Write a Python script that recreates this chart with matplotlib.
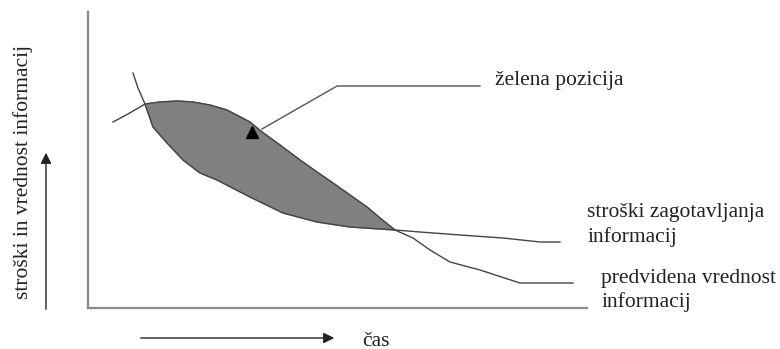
import numpy as np
import matplotlib.pyplot as plt

# koordinate so odčitane s slike (x v desno, y navzdol)
# predvidena vrednost informacij
vrednost_x = [113, 128, 145, 160, 177, 193, 210, 227, 250, 262, 280, 300, 317, 333, 350, 367, 380, 395, 413, 430, 450, 480, 520, 573]
vrednost_y = [122, 114, 104, 102, 101, 102, 105, 110, 122, 132, 145, 160, 172, 183, 195, 207, 218, 230, 238, 250, 262, 270, 283, 283]

# stroški zagotavljanja informacij
stroski_x = [133, 138, 145, 153, 167, 183, 200, 217, 250, 283, 317, 350, 395, 420, 460, 503, 540, 560]
stroski_y = [73, 88, 104, 127, 143, 160, 173, 180, 197, 213, 222, 227, 230, 232, 235, 238, 242, 242]

# osi in puščice
os_y = ([88, 88], [12, 308])
os_x = ([88, 587], [308, 308])

plt.rcParams['font.family'] = ['Liberation Serif', 'DejaVu Serif']

fig = plt.figure(figsize=(7.8, 3.49), dpi=100)
ax = fig.add_axes([0, 0, 1, 1])
ax.set_xlim(0, 780)
ax.set_ylim(349, 0)
ax.axis('off')

# osenčeno območje med presečiščema
vx = np.array(vrednost_x)
vy = np.array(vrednost_y)
sx = np.array(stroski_x)
sy = np.array(stroski_y)
zg = (vx >= 145) & (vx <= 395)
sp = (sx >= 145) & (sx <= 395)
poly_x = np.concatenate([vx[zg], sx[sp][::-1]])
poly_y = np.concatenate([vy[zg], sy[sp][::-1]])
ax.fill(poly_x, poly_y, color='#808080', zorder=1)

ax.plot(vx, vy, color='#444444', lw=1.0, zorder=2)
ax.plot(sx, sy, color='#444444', lw=1.0, zorder=2)

ax.plot(*os_y, color='#8a8a8a', lw=1.6)
ax.plot(*os_x, color='#8a8a8a', lw=1.6)

# puščici ob oseh
ax.annotate('', xy=(46, 150), xytext=(46, 312),
            arrowprops=dict(arrowstyle='-|>', color='#222222', lw=1.0, mutation_scale=16))
ax.annotate('', xy=(337, 338), xytext=(138, 338),
            arrowprops=dict(arrowstyle='-|>', color='#222222', lw=1.0, mutation_scale=16))

# kazalec na želeno pozicijo
ax.plot([480, 337, 262], [86, 86, 129], color='#555555', lw=1.0)
ax.plot([252], [132], marker='^', color='black', markersize=8)

fs = 15.5
ax.text(23, 172, 'stroški in vrednost informacij', rotation=90, ha='center', va='center',
        fontsize=fs, color='#222222')
ax.text(362, 341, 'čas', ha='left', va='center', fontsize=fs, color='#222222')
ax.text(495, 81, 'želena pozicija', ha='left', va='center', fontsize=fs, color='#222222')
ax.text(587, 212, 'stroški zagotavljanja', ha='left', va='center', fontsize=fs, color='#222222')
ax.text(587, 237, 'informacij', ha='left', va='center', fontsize=fs, color='#222222')
ax.text(601, 278, 'predvidena vrednost', ha='left', va='center', fontsize=fs, color='#222222')
ax.text(601, 302, 'informacij', ha='left', va='center', fontsize=fs, color='#222222')

fig.savefig('out.png', dpi=100)
